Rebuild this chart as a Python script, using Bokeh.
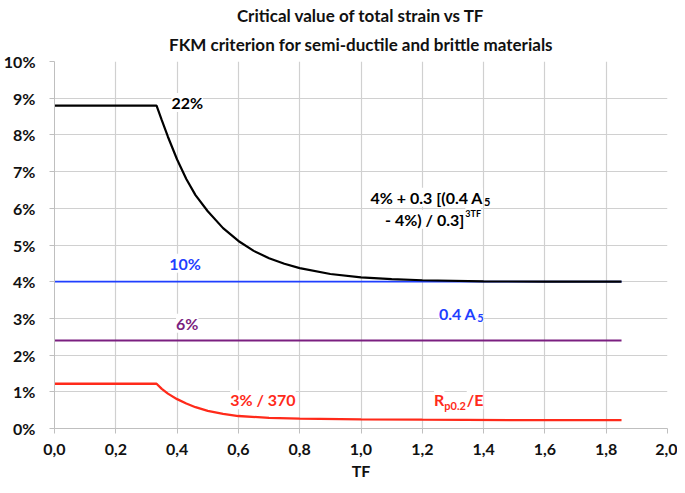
from bokeh.plotting import figure
from bokeh.models import Label, FixedTicker, Range1d, Title
from bokeh.embed import file_html
from bokeh.resources import INLINE

# ---- data ----
tf_black = [0.0, 0.333, 0.35, 0.37, 0.40, 0.43, 0.46, 0.50, 0.55, 0.60, 0.65, 0.70,
            0.75, 0.80, 0.90, 1.00, 1.10, 1.20, 1.40, 1.60, 1.85]
eps_black = [8.8, 8.8, 8.40, 7.95, 7.33, 6.80, 6.36, 5.92, 5.46, 5.11, 4.84, 4.64,
             4.49, 4.37, 4.21, 4.12, 4.07, 4.04, 4.01, 4.00, 4.00]

tf_red = [0.0, 0.333, 0.35, 0.37, 0.40, 0.43, 0.46, 0.50, 0.55, 0.60, 0.70, 0.80,
          1.00, 1.20, 1.50, 1.85]
eps_red = [1.22, 1.22, 1.08, 0.95, 0.80, 0.68, 0.58, 0.48, 0.40, 0.34, 0.29, 0.27,
           0.25, 0.24, 0.23, 0.23]

tf_flat = [0.0, 1.85]
eps_blue = [4.0, 4.0]
eps_purple = [2.4, 2.4]

x_ticks = [0.0, 0.2, 0.4, 0.6, 0.8, 1.0, 1.2, 1.4, 1.6, 1.8, 2.0]
x_tick_labels = ["0,0", "0,2", "0,4", "0,6", "0,8", "1,0", "1,2", "1,4", "1,6", "1,8", "2,0"]
y_ticks = [0, 1, 2, 3, 4, 5, 6, 7, 8, 9, 10]
y_tick_labels = ["0%", "1%", "2%", "3%", "4%", "5%", "6%", "7%", "8%", "9%", "10%"]

title_lines = ["Critical value of total strain vs TF",
               "FKM criterion for semi-ductile and brittle materials"]

BLACK = "#000000"
BLUE = "#1f3fff"
PURPLE = "#7b1f80"
RED = "#ff2a1a"
FONT = "Lato"
GRID = "#d0d0d0"
TXT = "#111111"

p = figure(width=677, height=485, x_range=Range1d(0, 2), y_range=Range1d(0, 10),
           output_backend="svg", toolbar_location=None, title=None,
           min_border_left=52, min_border_right=10, min_border_top=61,
           min_border_bottom=57)
p.outline_line_color = None
p.background_fill_color = "white"

# two centred title lines (inner line added first)
p.add_layout(Title(text=title_lines[1], align="center", text_font=FONT,
                   text_font_size="17px", text_font_style="bold", text_color=TXT,
                   text_line_height=0.9, standoff=13), "above")
p.add_layout(Title(text=title_lines[0], align="center", text_font=FONT,
                   text_font_size="17px", text_font_style="bold", text_color=TXT,
                   text_line_height=0.9, standoff=0), "above")

for ax in (p.xaxis[0], p.yaxis[0]):
    ax.axis_line_color = "#bfbfbf"
    ax.axis_line_width = 1
    ax.major_tick_line_color = "#bfbfbf"
    ax.major_tick_in = 0
    ax.major_tick_out = 5
    ax.minor_tick_line_color = None
    ax.major_label_text_font = FONT
    ax.major_label_text_font_size = "16px"
    ax.major_label_text_font_style = "bold"
    ax.major_label_text_color = TXT

p.xaxis.ticker = FixedTicker(ticks=x_ticks)
p.xaxis.major_label_overrides = {t: l for t, l in zip(x_ticks, x_tick_labels)}
p.yaxis.ticker = FixedTicker(ticks=y_ticks)
p.yaxis.major_label_overrides = {t: l for t, l in zip(y_ticks, y_tick_labels)}
p.xaxis.major_label_standoff = 10
p.yaxis.major_label_standoff = 14
p.xaxis.axis_label = "TF"
p.xaxis.axis_label_text_font = FONT
p.xaxis.axis_label_text_font_size = "16px"
p.xaxis.axis_label_text_font_style = "bold"
p.xaxis.axis_label_text_color = TXT
p.xaxis.axis_label_standoff = 3

p.xgrid.grid_line_color = GRID
p.ygrid.grid_line_color = GRID
p.xgrid.grid_line_width = 1.2
p.ygrid.grid_line_width = 1.2

# curves
p.line(tf_flat, eps_purple, line_color=PURPLE, line_width=2)
p.line(tf_flat, eps_blue, line_color=BLUE, line_width=1.8)
p.line(tf_red, eps_red, line_color=RED, line_width=2.3)
p.line(tf_black, eps_black, line_color=BLACK, line_width=2.2)


def lab(x, y, text, color, size="16px", align="center", baseline="middle",
        bg="white", xo=0, yo=0):
    p.add_layout(Label(x=x, y=y, text=text, text_color=color, text_font=FONT,
                       text_font_size=size, text_font_style="bold",
                       text_align=align, text_baseline=baseline,
                       background_fill_color=bg, x_offset=xo, y_offset=yo))


lab(0.433, 8.88, "22%", BLACK)
lab(0.426, 4.50, "10%", BLUE)
lab(0.433, 2.87, "6%", PURPLE)
lab(0.680, 0.78, "3% / 370", RED)

# 0.4 A5
lab(1.376, 3.14, "0.4 A", BLUE, align="right")
lab(1.376, 3.14, "5", BLUE, size="11px", align="left", yo=-5, xo=1)

# Rp0.2/E
lab(1.272, 0.78, "R", RED, align="right")
lab(1.272, 0.78, "p0.2", RED, size="11px", align="left", yo=-6, xo=0)
lab(1.345, 0.78, "/E", RED, align="left")

# formula
lab(1.398, 6.30, "4% + 0.3 [(0.4 A", BLACK, align="right")
lab(1.398, 6.30, "5", BLACK, size="11px", align="left", yo=-5, xo=1)
lab(1.337, 5.70, "- 4%) / 0.3]", BLACK, align="right")
lab(1.337, 5.70, "3TF", BLACK, size="9px", align="left", yo=6, xo=1)

open("out.html", "w").write(file_html(p, INLINE))
